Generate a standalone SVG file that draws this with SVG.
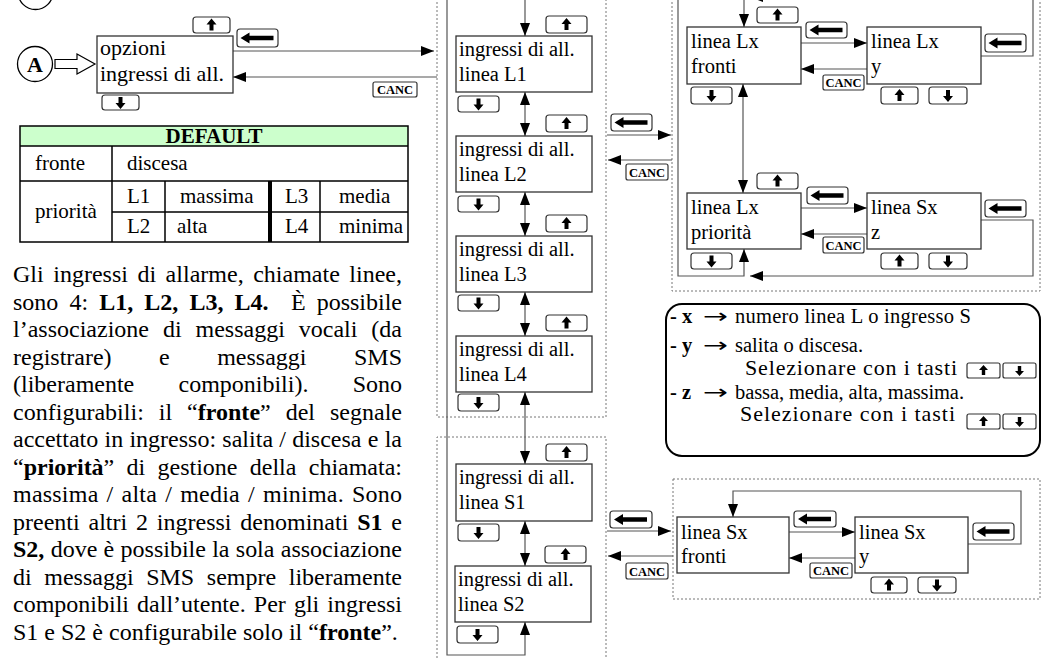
<svg xmlns="http://www.w3.org/2000/svg" width="1043" height="659" viewBox="0 0 1043 659">
<style>
text{font-family:"Liberation Serif","Times New Roman",serif;fill:#000}
.b{font-weight:bold}
.t{font-size:20.5px}
.p{font-size:24px}
.tb{font-size:21px}
.lg{font-size:20.5px}
.sel{font-size:22px}
.ar{font-family:"DejaVu Sans",sans-serif;font-size:20px}
.canc{font-size:12.5px;font-weight:bold;text-anchor:middle}
.box{fill:#fff;stroke:#333;stroke-width:1.3}
.key{fill:#fff;stroke:#333;stroke-width:1.2}
.cn{fill:none;stroke:#555;stroke-width:1.2}
.dot{fill:none;stroke:#777;stroke-width:1;stroke-dasharray:2 2}
.tbl{fill:none;stroke:#000;stroke-width:1.5}
</style>
<defs>
<marker id="ah" viewBox="0 0 13 10" refX="13" refY="5" markerWidth="13" markerHeight="10" markerUnits="userSpaceOnUse" orient="auto-start-reverse"><path d="M0,0 L13,5 L0,10 z" fill="#000"/></marker>
<path id="up" d="M0,-6.5 L5,-0.5 L2,-0.5 L2,5.5 L-2,5.5 L-2,-0.5 L-5,-0.5 z" fill="#000"/>
<path id="dn" d="M0,6.5 L5,0.5 L2,0.5 L2,-5.5 L-2,-5.5 L-2,0.5 L-5,0.5 z" fill="#000"/>
<path id="up2" d="M0,-5.5 L4.5,-0.5 L1.7,-0.5 L1.7,4.5 L-1.7,4.5 L-1.7,-0.5 L-4.5,-0.5 z" fill="#000"/>
<path id="dn2" d="M0,5.5 L4.5,0.5 L1.7,0.5 L1.7,-4.5 L-1.7,-4.5 L-1.7,0.5 L-4.5,0.5 z" fill="#000"/>
<path id="lf" d="M-17,0 L-8,-5.5 L-8,-2.3 L16,-2.3 L16,2.3 L-8,2.3 L-8,5.5 z" fill="#000"/>
</defs>

<!-- dotted frames -->
<g id="frames">
<path class="dot" d="M437,-2 V417 H606 V-2"/>
<path class="dot" d="M437,662 V437 H606 V662"/>
<path class="dot" d="M672,-2 V291 H1040 V-2"/>
<rect class="dot" x="673" y="479" width="367" height="120"/>
</g>

<g id="header-circle"><circle cx="35.5" cy="-8" r="17.5" fill="none" stroke="#000" stroke-width="1.3"/></g>

<g id="connectors">
<polygon points="55,59.5 77,59.5 77,54 95,64 77,74 77,68.5 55,68.5" fill="#fff" stroke="#000" stroke-width="1.2"/>
<path class="cn" d="M233,51 H434" marker-end="url(#ah)"/>
<path class="cn" d="M437,77 H233" marker-end="url(#ah)"/>
<path class="cn" d="M525,36 V-3 H447 V655 H525 V622" marker-start="url(#ah)" marker-end="url(#ah)"/>
<path class="cn" d="M525,92 V136" marker-start="url(#ah)" marker-end="url(#ah)"/>
<path class="cn" d="M525,192 V236" marker-start="url(#ah)" marker-end="url(#ah)"/>
<path class="cn" d="M525,292 V336" marker-start="url(#ah)" marker-end="url(#ah)"/>
<path class="cn" d="M525,392 V464" marker-start="url(#ah)" marker-end="url(#ah)"/>
<path class="cn" d="M525,521 V566" marker-start="url(#ah)" marker-end="url(#ah)"/>
<path class="cn" d="M607,135 H671" marker-end="url(#ah)"/>
<path class="cn" d="M672,160 H608" marker-end="url(#ah)"/>
<path class="cn" d="M607,531 H671" marker-end="url(#ah)"/>
<path class="cn" d="M673,556 H608" marker-end="url(#ah)"/>
<path class="cn" d="M801,43 H867" marker-end="url(#ah)"/>
<path class="cn" d="M867,69 H801" marker-end="url(#ah)"/>
<path class="cn" d="M743,84 V193" marker-start="url(#ah)" marker-end="url(#ah)"/>
<path class="cn" d="M981,56 H1033 V-3 H750" marker-end="url(#ah)"/>
<path class="cn" d="M744,-3 V27" marker-end="url(#ah)"/>
<path class="cn" d="M744,-3 H678 V276 H744 V249" marker-end="url(#ah)"/>
<path class="cn" d="M801,208 H867" marker-end="url(#ah)"/>
<path class="cn" d="M867,234 H801" marker-end="url(#ah)"/>
<path class="cn" d="M981,220 H1033 V276 H750" marker-end="url(#ah)"/>
<path class="cn" d="M789,532 H855" marker-end="url(#ah)"/>
<path class="cn" d="M855,558 H789" marker-end="url(#ah)"/>
<path class="cn" d="M968,544 H1021 V491 H733 V517" marker-end="url(#ah)"/>
</g>

<g id="nodeA"><circle cx="35" cy="64" r="17.5" fill="#fff" stroke="#000" stroke-width="1.3"/><text x="35" y="72" class="b" font-size="22" text-anchor="middle">A</text></g>

<g id="opzioni"><rect class="box" x="97" y="36" width="136" height="57"/><text x="100" y="55" font-size="22">opzioni</text><text x="100" y="81" font-size="22">ingressi di all.</text></g>

<g id="L1"><rect class="box" x="456" y="36" width="136" height="56"/><text class="t" x="459" y="56">ingressi di all.</text><text class="t" x="459" y="81">linea L1</text></g>
<g id="L2"><rect class="box" x="456" y="136" width="136" height="56"/><text class="t" x="459" y="156">ingressi di all.</text><text class="t" x="459" y="181">linea L2</text></g>
<g id="L3"><rect class="box" x="456" y="236" width="136" height="56"/><text class="t" x="459" y="256">ingressi di all.</text><text class="t" x="459" y="281">linea L3</text></g>
<g id="L4"><rect class="box" x="456" y="336" width="136" height="56"/><text class="t" x="459" y="356">ingressi di all.</text><text class="t" x="459" y="381">linea L4</text></g>
<g id="S1"><rect class="box" x="456" y="464" width="136" height="57"/><text class="t" x="459" y="484">ingressi di all.</text><text class="t" x="459" y="509">linea S1</text></g>
<g id="S2"><rect class="box" x="455" y="566" width="136" height="56"/><text class="t" x="458" y="586">ingressi di all.</text><text class="t" x="458" y="611">linea S2</text></g>

<g id="LxFronti"><rect class="box" x="687" y="27" width="114" height="57"/><text class="t" x="691" y="48">linea Lx</text><text class="t" x="691" y="73">fronti</text></g>
<g id="LxY"><rect class="box" x="867" y="27" width="114" height="57"/><text class="t" x="871" y="48">linea Lx</text><text class="t" x="871" y="73">y</text></g>
<g id="LxPriorita"><rect class="box" x="687" y="193" width="114" height="56"/><text class="t" x="691" y="214">linea Lx</text><text class="t" x="691" y="239">priorità</text></g>
<g id="SxZ"><rect class="box" x="867" y="193" width="114" height="56"/><text class="t" x="871" y="214">linea Sx</text><text class="t" x="871" y="239">z</text></g>
<g id="SxFronti"><rect class="box" x="677" y="517" width="112" height="56"/><text class="t" x="681" y="539">linea Sx</text><text class="t" x="681" y="563">fronti</text></g>
<g id="SxY"><rect class="box" x="855" y="517" width="113" height="56"/><text class="t" x="859" y="539">linea Sx</text><text class="t" x="859" y="563">y</text></g>

<g id="keys">
<rect class="key" x="193" y="17" width="37" height="16" rx="3"/><use href="#up" x="211.5" y="25"/>
<rect class="key" x="102" y="95" width="37" height="15" rx="3"/><use href="#dn" x="120.5" y="102.5"/>
<rect class="key" x="237" y="29" width="41" height="18" rx="3"/><use href="#lf" x="257.5" y="38"/>
<rect class="key" x="373" y="82" width="44" height="15" rx="2"/><text class="canc" x="395" y="94">CANC</text>

<rect class="key" x="546" y="16" width="41" height="17" rx="3"/><use href="#up" x="566.5" y="24.5"/>
<rect class="key" x="458" y="96" width="41" height="16" rx="3"/><use href="#dn" x="478.5" y="104"/>
<rect class="key" x="546" y="115" width="41" height="17" rx="3"/><use href="#up" x="566.5" y="123.5"/>
<rect class="key" x="458" y="196" width="41" height="16" rx="3"/><use href="#dn" x="478.5" y="204"/>
<rect class="key" x="546" y="215" width="41" height="17" rx="3"/><use href="#up" x="566.5" y="223.5"/>
<rect class="key" x="458" y="295" width="41" height="16" rx="3"/><use href="#dn" x="478.5" y="303"/>
<rect class="key" x="546" y="315" width="41" height="16" rx="3"/><use href="#up" x="566.5" y="323"/>
<rect class="key" x="458" y="394" width="41" height="17" rx="3"/><use href="#dn" x="478.5" y="402.5"/>
<rect class="key" x="546" y="444" width="41" height="17" rx="3"/><use href="#up" x="566.5" y="452.5"/>
<rect class="key" x="458" y="524" width="41" height="17" rx="3"/><use href="#dn" x="478.5" y="532.5"/>
<rect class="key" x="545" y="546" width="41" height="17" rx="3"/><use href="#up" x="565.5" y="554.5"/>
<rect class="key" x="457" y="626" width="41" height="17" rx="3"/><use href="#dn" x="477.5" y="634.5"/>

<rect class="key" x="611" y="114" width="41" height="17" rx="3"/><use href="#lf" x="631.5" y="122.5"/>
<rect class="key" x="626" y="164" width="42" height="16" rx="2"/><text class="canc" x="647" y="176.5">CANC</text>
<rect class="key" x="610" y="511" width="42" height="17" rx="3"/><use href="#lf" x="631" y="519.5"/>
<rect class="key" x="626" y="563" width="42" height="16" rx="2"/><text class="canc" x="647" y="575.5">CANC</text>

<rect class="key" x="757" y="7" width="41" height="16" rx="3"/><use href="#up" x="777.5" y="15"/>
<rect class="key" x="806" y="22" width="41" height="16" rx="3"/><use href="#lf" x="826.5" y="30"/>
<rect class="key" x="823" y="75" width="41" height="15" rx="2"/><text class="canc" x="843.5" y="87">CANC</text>
<rect class="key" x="985" y="34" width="41" height="18" rx="3"/><use href="#lf" x="1005.5" y="43"/>
<rect class="key" x="691" y="87" width="41" height="17" rx="3"/><use href="#dn" x="711.5" y="95.5"/>
<rect class="key" x="881" y="87" width="37" height="17" rx="3"/><use href="#up" x="899.5" y="95.5"/>
<rect class="key" x="929" y="87" width="38" height="17" rx="3"/><use href="#dn" x="948" y="95.5"/>
<rect class="key" x="757" y="173" width="41" height="16" rx="3"/><use href="#up" x="777.5" y="181"/>
<rect class="key" x="807" y="187" width="41" height="17" rx="3"/><use href="#lf" x="827.5" y="195.5"/>
<rect class="key" x="823" y="237" width="41" height="16" rx="2"/><text class="canc" x="843.5" y="249.5">CANC</text>
<rect class="key" x="985" y="200" width="41" height="17" rx="3"/><use href="#lf" x="1005.5" y="208.5"/>
<rect class="key" x="691" y="253" width="41" height="16" rx="3"/><use href="#dn" x="711.5" y="261"/>
<rect class="key" x="881" y="253" width="37" height="16" rx="3"/><use href="#up" x="899.5" y="261"/>
<rect class="key" x="929" y="253" width="38" height="16" rx="3"/><use href="#dn" x="948" y="261"/>

<rect class="key" x="794" y="511" width="42" height="16" rx="3"/><use href="#lf" x="815" y="519"/>
<rect class="key" x="810" y="563" width="42" height="15" rx="2"/><text class="canc" x="831" y="575">CANC</text>
<rect class="key" x="973" y="523" width="41" height="17" rx="3"/><use href="#lf" x="993.5" y="531.5"/>
<rect class="key" x="871" y="577" width="36" height="16" rx="3"/><use href="#up" x="889" y="585"/>
<rect class="key" x="918" y="577" width="38" height="16" rx="3"/><use href="#dn" x="937" y="585"/>
</g>

<g id="table">
<rect x="20" y="126" width="388" height="20" fill="#ccffcc"/>
<rect class="tbl" x="20" y="126" width="388" height="116"/>
<path class="tbl" d="M20,146 H408 M20,181 H408 M112,212 H408 M112,146 V242 M165,181 V242 M320,181 V242"/>
<path d="M270,181 V242" stroke="#000" stroke-width="4"/>
<text class="tb b" x="214" y="143" text-anchor="middle">DEFAULT</text>
<text class="tb" x="35" y="170">fronte</text>
<text class="tb" x="127" y="170">discesa</text>
<text class="tb" x="35" y="218">priorità</text>
<text class="tb" x="127" y="203">L1</text>
<text class="tb" x="180" y="203">massima</text>
<text class="tb" x="285" y="203">L3</text>
<text class="tb" x="339" y="203">media</text>
<text class="tb" x="127" y="233">L2</text>
<text class="tb" x="177" y="233">alta</text>
<text class="tb" x="285" y="233">L4</text>
<text class="tb" x="339" y="233">minima</text>
</g>

<g id="paragraph">
<text class="p" x="13" y="282" word-spacing="3.5" textLength="389">Gli ingressi di allarme, chiamate linee,</text>
<text class="p" x="13" y="309.5" word-spacing="5.1">sono 4: <tspan class="b">L1, L2, L3, L4.</tspan></text>
<text class="p" x="402" y="309.5" word-spacing="5.1" text-anchor="end">È possibile</text>
<text class="p" x="13" y="337" word-spacing="7.9" textLength="389">l’associazione di messaggi vocali (da</text>
<text class="p" x="13" y="364.5" word-spacing="41.5" textLength="389">registrare) e messaggi SMS</text>
<text class="p" x="13" y="392" word-spacing="38.2" textLength="389">(liberamente componibili). Sono</text>
<text class="p" x="13" y="419.5" word-spacing="8.9" textLength="389">configurabili: il “<tspan class="b">fronte</tspan>” del segnale</text>
<text class="p" x="13" y="447" word-spacing="0.25" textLength="389">accettato in ingresso: salita / discesa e la</text>
<text class="p" x="13" y="474.5" word-spacing="6.3" textLength="389">“<tspan class="b">priorità</tspan>” di gestione della chiamata:</text>
<text class="p" x="13" y="502" word-spacing="1.9" textLength="389">massima / alta / media / minima. Sono</text>
<text class="p" x="13" y="529.5" word-spacing="2.8" textLength="389">preenti altri 2 ingressi denominati <tspan class="b">S1</tspan> e</text>
<text class="p" x="13" y="557" word-spacing="0.3" textLength="389"><tspan class="b">S2,</tspan> dove è possibile la sola associazione</text>
<text class="p" x="13" y="584.5" word-spacing="6.6" textLength="389">di messaggi SMS sempre liberamente</text>
<text class="p" x="13" y="612" word-spacing="2.1" textLength="389">componibili dall’utente. Per gli ingressi</text>
<text class="p" x="13" y="639.5">S1 e S2 è configurabile solo il “<tspan class="b">fronte</tspan>”.</text>
</g>

<g id="legend">
<rect x="666" y="304" width="374" height="152" rx="16" fill="#fff" stroke="#000" stroke-width="2"/>
<text class="lg b" x="670" y="323">- x</text>
<text class="ar" x="703" y="323" textLength="25" lengthAdjust="spacingAndGlyphs">→</text>
<text class="lg" x="735" y="323" textLength="236">numero linea L o ingresso S</text>
<text class="lg b" x="670" y="351.5">- y</text>
<text class="ar" x="703" y="351.5" textLength="25" lengthAdjust="spacingAndGlyphs">→</text>
<text class="lg" x="735" y="351.5" font-size="21.5">salita o discesa.</text>
<text class="sel" x="745" y="374.5" textLength="212">Selezionare con i tasti</text>
<text class="lg b" x="670" y="398.5">- z</text>
<text class="ar" x="703" y="398.5" textLength="25" lengthAdjust="spacingAndGlyphs">→</text>
<text class="lg" x="735" y="398.5" textLength="229">bassa, media, alta, massima.</text>
<text class="sel" x="740" y="421" textLength="215">Selezionare con i tasti</text>
<rect class="key" x="967" y="363" width="33" height="15" rx="2"/><use href="#up2" x="983.5" y="370.5"/>
<rect class="key" x="1003" y="363" width="33" height="15" rx="2"/><use href="#dn2" x="1019.5" y="370.5"/>
<rect class="key" x="967" y="414" width="33" height="15" rx="2"/><use href="#up2" x="983.5" y="421.5"/>
<rect class="key" x="1003" y="414" width="33" height="15" rx="2"/><use href="#dn2" x="1019.5" y="421.5"/>
</g>
</svg>
